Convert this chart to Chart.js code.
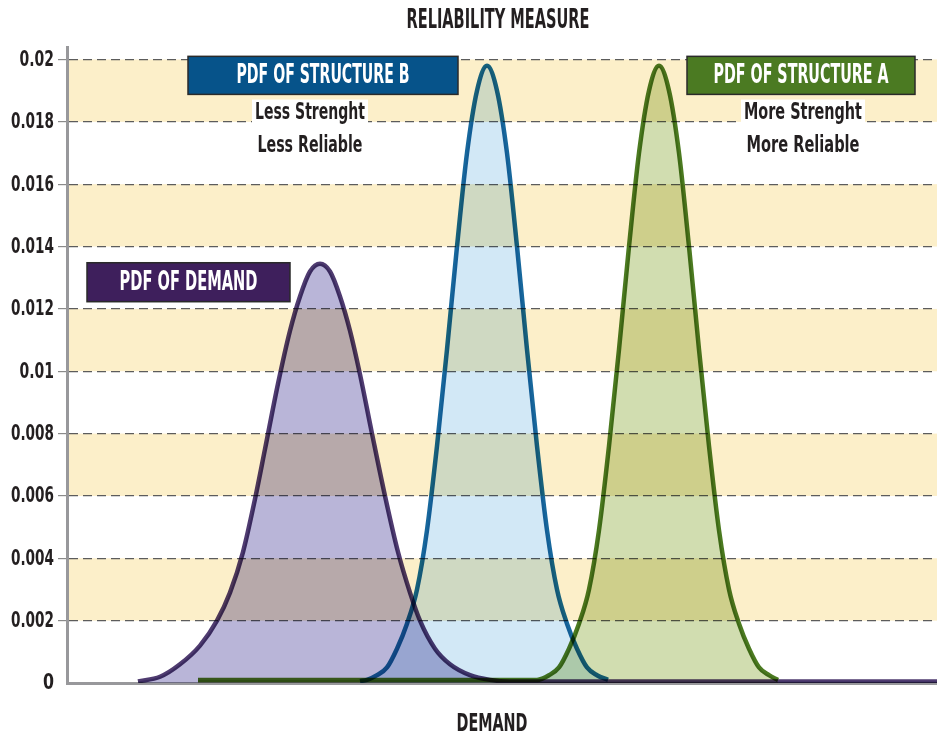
<!DOCTYPE html>
<html>
<head>
<meta charset="utf-8">
<script src="https://cdn.jsdelivr.net/npm/chart.js@4.4.1/dist/chart.umd.min.js"></script>
<style>
  html, body { margin: 0; padding: 0; background: #fff; }
</style>
</head>
<body>
<canvas id="reliabilityChart" width="937" height="736"></canvas>
<script>
var FONT = "'DejaVu Sans Condensed', 'DejaVu Sans', sans-serif";

var demandX   = [7.1, 9.3, 11.3, 13.3, 15.0, 16.3, 17.6, 18.8, 19.8, 21.1, 22.3, 23.3, 24.3, 25.3, 26.3, 27.3, 28.3, 29.3, 30.5, 31.8, 33.1, 34.3, 35.3, 36.8, 38.3, 40.3, 42.3, 44.3, 87];
var demandPdf = [0.00005, 0.0002, 0.0006, 0.0012, 0.002, 0.0029, 0.0042, 0.0059, 0.0075, 0.0096, 0.0113, 0.0124, 0.0132, 0.01345, 0.0132, 0.0124, 0.0113, 0.0099, 0.0080, 0.0060, 0.0042, 0.0029, 0.0020, 0.0011, 0.0006, 0.00025, 0.0001, 0.00005, 0.00005];

var structBX   = [29.3, 30.0, 31.0, 32.0, 33.0, 34.0, 35.0, 36.0, 37.0, 38.0, 39.0, 40.0, 41.0, 42.0, 43.0, 44.0, 45.0, 46.0, 47.0, 48.0, 49.0, 50.0, 51.0, 52.0, 53.0, 54.1];
var structBPdf = [0.00006, 0.0001, 0.00025, 0.0005, 0.0011, 0.0019, 0.0030, 0.0049, 0.0076, 0.0107, 0.0140, 0.0170, 0.0190, 0.0198, 0.0190, 0.0170, 0.0140, 0.0107, 0.0076, 0.0049, 0.0030, 0.0019, 0.0011, 0.0005, 0.00025, 0.0001];

var structAX   = [13.1, 47.0, 48.2, 49.2, 50.2, 51.2, 52.2, 53.2, 54.2, 55.2, 56.2, 57.2, 58.2, 59.2, 60.2, 61.2, 62.2, 63.2, 64.2, 65.2, 66.2, 67.2, 68.2, 69.2, 70.2, 71.1];
var structAPdf = [0.0001, 0.0001, 0.00025, 0.0005, 0.0011, 0.0019, 0.0030, 0.0049, 0.0076, 0.0107, 0.0140, 0.0170, 0.0190, 0.0198, 0.0190, 0.0170, 0.0140, 0.0107, 0.0076, 0.0049, 0.0030, 0.0019, 0.0011, 0.0005, 0.00025, 0.0001];

var yTicks = [0, 0.002, 0.004, 0.006, 0.008, 0.01, 0.012, 0.014, 0.016, 0.018, 0.02];

// callout boxes, placed in data units
var boxes = [
  { text: 'PDF OF STRUCTURE B', x0: 12.1, x1: 39.1, y0: 0.0201, y1: 0.01888, fill: '#06538a', textW: 173 },
  { text: 'PDF OF STRUCTURE A', x0: 62.0, x1: 84.8, y0: 0.0201, y1: 0.01888, fill: '#4b7a22', textW: 175 },
  { text: 'PDF OF DEMAND',      x0: 2.0,  x1: 22.3, y0: 0.01348, y1: 0.01223, fill: '#3e1f5c', textW: 138 }
];
var notes = [
  { text: 'Less Strenght', x: 24.3, y: 0.01833, w: 110 },
  { text: 'Less Reliable', x: 24.3, y: 0.01727, w: 105 },
  { text: 'More Strenght', x: 73.6, y: 0.01833, w: 118 },
  { text: 'More Reliable', x: 73.6, y: 0.01727, w: 113 }
];

function toPoints(xs, ys) {
  return xs.map(function (x, i) { return { x: x, y: ys[i] }; });
}

// the original uses a condensed face, so squeeze the text to its width
function fitText(ctx, text, x, y, size, width, color, align) {
  ctx.save();
  ctx.font = 'bold ' + size + 'px ' + FONT;
  var s = width / ctx.measureText(text).width;
  ctx.translate(x, y);
  ctx.scale(s, 1);
  ctx.textAlign = align || 'center';
  ctx.textBaseline = 'middle';
  ctx.fillStyle = color;
  ctx.fillText(text, 0, 0);
  ctx.restore();
}

var bandsPlugin = {
  id: 'bands',
  beforeDraw: function (chart) {
    var c = chart.ctx, a = chart.chartArea, y = chart.scales.y;
    c.save();
    c.fillStyle = '#ffffff';
    c.fillRect(0, 0, chart.width, chart.height);
    c.fillStyle = '#fcefc9';
    for (var i = 1; i < yTicks.length - 1; i += 2) {
      var top = y.getPixelForValue(yTicks[i + 1]);
      var bot = y.getPixelForValue(yTicks[i]);
      c.fillRect(a.left, top, a.right - a.left, bot - top);
    }
    c.restore();
  }
};

// fills darken what lies under them, like the original artwork
var multiplyPlugin = {
  id: 'multiply',
  beforeDatasetsDraw: function (chart) {
    chart.ctx.save();
    chart.ctx.globalCompositeOperation = 'multiply';
  },
  afterDatasetsDraw: function (chart) {
    chart.ctx.restore();
  }
};

var labelsPlugin = {
  id: 'labels',
  afterDraw: function (chart) {
    var c = chart.ctx, xs = chart.scales.x, ys = chart.scales.y, a = chart.chartArea;
    var ink = '#231f20';

    fitText(c, 'RELIABILITY MEASURE', 498, 21, 26, 183, ink);
    fitText(c, 'DEMAND', 492, 724, 25, 71, ink);

    ys.ticks.forEach(function (t) {
      var s = String(t.value);
      var w = s.length > 1 ? s.length * 8.6 : 11;
      fitText(c, s, a.left - 13, ys.getPixelForValue(t.value) + 1, 21, w, ink, 'right');
    });

    boxes.forEach(function (b) {
      var l = xs.getPixelForValue(b.x0), r = xs.getPixelForValue(b.x1);
      var t = ys.getPixelForValue(b.y0), btm = ys.getPixelForValue(b.y1);
      c.save();
      c.fillStyle = b.fill;
      c.fillRect(l, t, r - l, btm - t);
      c.strokeStyle = '#2a2a2a';
      c.lineWidth = 1.5;
      c.strokeRect(l, t, r - l, btm - t);
      c.restore();
      fitText(c, b.text, (l + r) / 2, (t + btm) / 2 + 1, 27, b.textW, '#ffffff');
    });

    notes.forEach(function (n) {
      var cx = xs.getPixelForValue(n.x), cy = ys.getPixelForValue(n.y);
      c.save();
      c.fillStyle = '#ffffff';
      c.fillRect(cx - n.w / 2 - 3, cy - 12, n.w + 6, 25);
      c.restore();
      fitText(c, n.text, cx, cy + 1, 23, n.w, ink);
    });
  }
};

var ctx = document.getElementById('reliabilityChart').getContext('2d');
var reliabilityChart = new Chart(ctx, {
  type: 'line',
  data: {
    datasets: [
      {
        label: 'PDF of demand',
        data: toPoints(demandX, demandPdf),
        borderColor: '#4f3b70',
        backgroundColor: '#b9b5d8',
        fill: 'origin',
        borderWidth: 4.5,
        pointRadius: 0,
        cubicInterpolationMode: 'monotone'
      },
      {
        label: 'PDF of structure B',
        data: toPoints(structBX, structBPdf),
        borderColor: '#17679c',
        backgroundColor: '#d2e8f6',
        fill: 'origin',
        borderWidth: 4.5,
        pointRadius: 0,
        cubicInterpolationMode: 'monotone'
      },
      {
        label: 'PDF of structure A',
        data: toPoints(structAX, structAPdf),
        borderColor: '#4b7a20',
        backgroundColor: '#d1ddb0',
        fill: 'origin',
        borderWidth: 4.5,
        pointRadius: 0,
        cubicInterpolationMode: 'monotone'
      }
    ]
  },
  options: {
    responsive: false,
    animation: false,
    devicePixelRatio: 1,
    layout: { padding: { top: 47, right: 0, bottom: 0, left: 0 } },
    plugins: {
      legend: { display: false },
      tooltip: { enabled: false }
    },
    scales: {
      x: {
        type: 'linear',
        min: 0,
        max: 87,
        ticks: { display: false },
        grid: { display: false },
        border: { display: true, color: '#98989b', width: 3 },
        afterFit: function (s) { s.height = 53; }
      },
      y: {
        min: 0,
        max: 0.0204,
        afterBuildTicks: function (s) {
          s.ticks = yTicks.map(function (v) { return { value: v }; });
        },
        afterFit: function (s) { s.width = 67; },
        ticks: { display: false },
        grid: {
          color: function (c) { return c.tick && c.tick.value === 0 ? 'rgba(0,0,0,0)' : '#5c5c5c'; },
          tickColor: function (c) { return c.tick && c.tick.value === 0 ? 'rgba(0,0,0,0)' : '#8a8a8a'; },
          lineWidth: 1.2,
          tickLength: 9,
          tickBorderDash: []
        },
        border: { display: true, color: '#98989b', width: 3, dash: [9, 5] }
      }
    }
  },
  plugins: [bandsPlugin, multiplyPlugin, labelsPlugin]
});
</script>
</body>
</html>
